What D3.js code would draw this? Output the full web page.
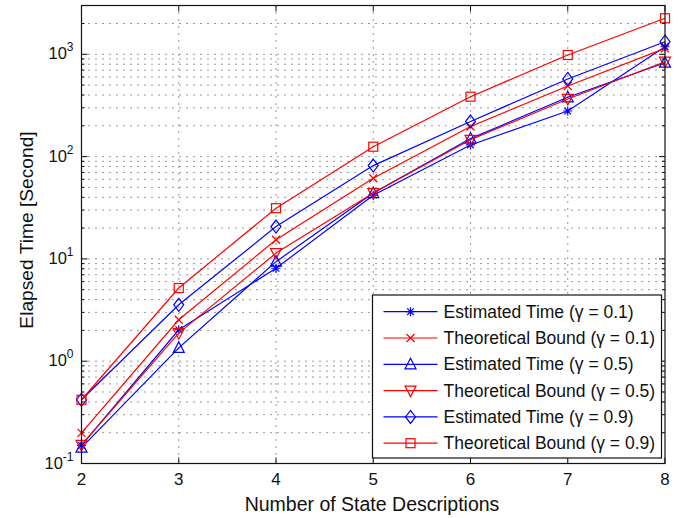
<!DOCTYPE html>
<html><head><meta charset="utf-8">
<script src="https://cdn.jsdelivr.net/npm/d3@7"></script>
<style>body{margin:0;background:#fff;} text{font-family:"Liberation Sans",Arial,sans-serif;fill:#111;}</style>
</head><body><svg id="c" width="682" height="518"></svg>
<script>
const xValues = [2, 3, 4, 5, 6, 7, 8];
const estG01 = [0.15, 2.03, 8.1, 42, 130, 279, 1186];
const thG01 = [0.199, 2.54, 15.4, 61.5, 197, 490, 1144];
const estG05 = [0.143, 1.35, 9.4, 44, 150, 380, 828];
const thG05 = [0.152, 1.88, 11.4, 44, 146, 366, 847];
const estG09 = [0.42, 3.56, 20.7, 81.7, 220, 574, 1327];
const thG09 = [0.42, 5.19, 31.3, 125, 385, 985, 2250];
const seriesNames = ["Estimated Time (γ = 0.1)","Theoretical Bound (γ = 0.1)","Estimated Time (γ = 0.5)","Theoretical Bound (γ = 0.5)","Estimated Time (γ = 0.9)","Theoretical Bound (γ = 0.9)"];
const xTicks = [2,3,4,5,6,7,8];
const yTickExps = [-1,0,1,2,3];
const xLabel = "Number of State Descriptions";
const yLabel = "Elapsed Time [Second]";

const series = [
  {name:seriesNames[0], vals:estG01, color:"#0000ff", marker:"star"},
  {name:seriesNames[1], vals:thG01, color:"#ff0000", marker:"x"},
  {name:seriesNames[2], vals:estG05, color:"#0000ff", marker:"tri"},
  {name:seriesNames[3], vals:thG05, color:"#ff0000", marker:"itri"},
  {name:seriesNames[4], vals:estG09, color:"#0000ff", marker:"diamond"},
  {name:seriesNames[5], vals:thG09, color:"#ff0000", marker:"square"}
];

const L=81.5, R=665, T=5.5, B=463.5;
const svg = d3.select("#c");
const x = d3.scaleLinear().domain([2,8]).range([L,R]);
const y = d3.scaleLog().domain([0.1,3000]).range([B,T]);

// grid
const g = svg.append("g");
const minorVals = [];
for (let e=-1;e<=3;e++) for (let m=1;m<=9;m++){ const v=m*Math.pow(10,e); if(v>=0.1 && v<=3000) minorVals.push(v); }
g.selectAll("line.hy").data(minorVals).enter().append("line")
  .attr("x1",L).attr("x2",R).attr("y1",d=>y(d)).attr("y2",d=>y(d))
  .attr("stroke","#333").attr("stroke-width",1).attr("stroke-dasharray","1,6");
g.selectAll("line.vx").data(xTicks.slice(1,-1)).enter().append("line")
  .attr("y1",T).attr("y2",B).attr("x1",d=>x(d)).attr("x2",d=>x(d))
  .attr("stroke","#333").attr("stroke-width",1).attr("stroke-dasharray","1,6");

// ticks inside
const tk = svg.append("g").attr("stroke","#111").attr("stroke-width",1);
xTicks.forEach(v=>{
  tk.append("line").attr("x1",x(v)).attr("x2",x(v)).attr("y1",B).attr("y2",B-6);
  tk.append("line").attr("x1",x(v)).attr("x2",x(v)).attr("y1",T).attr("y2",T+6);
});
minorVals.forEach(v=>{
  const major = Math.abs(Math.log10(v)-Math.round(Math.log10(v)))<1e-9;
  const len = major?6:3;
  tk.append("line").attr("x1",L).attr("x2",L+len).attr("y1",y(v)).attr("y2",y(v));
  tk.append("line").attr("x1",R).attr("x2",R-len).attr("y1",y(v)).attr("y2",y(v));
});

// tick labels
svg.selectAll("text.xt").data(xTicks).enter().append("text")
  .attr("x",d=>x(d)).attr("y",B+21.5).attr("text-anchor","middle").attr("font-size",17).text(d=>d);
yTickExps.forEach(e=>{
  const t = svg.append("text").attr("x",L-8).attr("y",y(Math.pow(10,e))+5).attr("text-anchor","end").attr("font-size",16.5);
  t.append("tspan").text("10");
  t.append("tspan").attr("dy",-8).attr("font-size",12).text(e);
});
svg.append("text").attr("x",372).attr("y",511).attr("text-anchor","middle").attr("font-size",19.5).text(xLabel);
svg.append("text").attr("transform",`translate(32.5,230) rotate(-90)`).attr("text-anchor","middle").attr("font-size",19.2).text(yLabel);

// markers
function drawMarker(sel, type, cx, cy, color){
  const s = sel.append("g").attr("transform",`translate(${cx},${cy})`).attr("fill","none").attr("stroke",color).attr("stroke-width",1.2);
  if(type==="star"){
    s.append("path").attr("d","M-4.5,0H4.5M0,-4.5V4.5M-3.3,-3.3L3.3,3.3M-3.3,3.3L3.3,-3.3");
  } else if(type==="x"){
    s.append("path").attr("d","M-4,-4L4,4M-4,4L4,-4");
  } else if(type==="tri"){
    s.append("path").attr("d","M0,-6L5.5,4.5H-5.5Z");
  } else if(type==="itri"){
    s.append("path").attr("d","M0,6L5.5,-4.5H-5.5Z");
  } else if(type==="diamond"){
    s.append("path").attr("d","M0,-6.5L5,0L0,6.5L-5,0Z");
  } else if(type==="square"){
    s.append("rect").attr("x",-4.5).attr("y",-4.5).attr("width",9).attr("height",9);
  }
}

const line = d3.line().x((d,i)=>x(xValues[i])).y(d=>y(d));
series.forEach(s=>{
  svg.append("path").datum(s.vals).attr("d",line).attr("fill","none").attr("stroke",s.color).attr("stroke-width",1.2);
  s.vals.forEach((v,i)=>drawMarker(svg,s.marker,x(xValues[i]),y(v),s.color));
});

// axes box
svg.append("rect").attr("x",L).attr("y",T).attr("width",R-L).attr("height",B-T).attr("fill","none").attr("stroke","#111").attr("stroke-width",1.2);

// legend
const lg = svg.append("g");
const lx=372.5, ly=295, lw=289, lh=163;
lg.append("rect").attr("x",lx).attr("y",ly).attr("width",lw).attr("height",lh).attr("fill","#fff").attr("stroke","#111").attr("stroke-width",1.2);
series.forEach((s,i)=>{
  const yy = 311.7 + i*26.3;
  lg.append("line").attr("x1",383.5).attr("x2",437.5).attr("y1",yy).attr("y2",yy).attr("stroke",s.color).attr("stroke-width",1.2);
  drawMarker(lg,s.marker,410.5,yy,s.color);
  lg.append("text").attr("x",443.5).attr("y",yy+6).attr("font-size",17.5).text(s.name);
});
</script></body></html>
